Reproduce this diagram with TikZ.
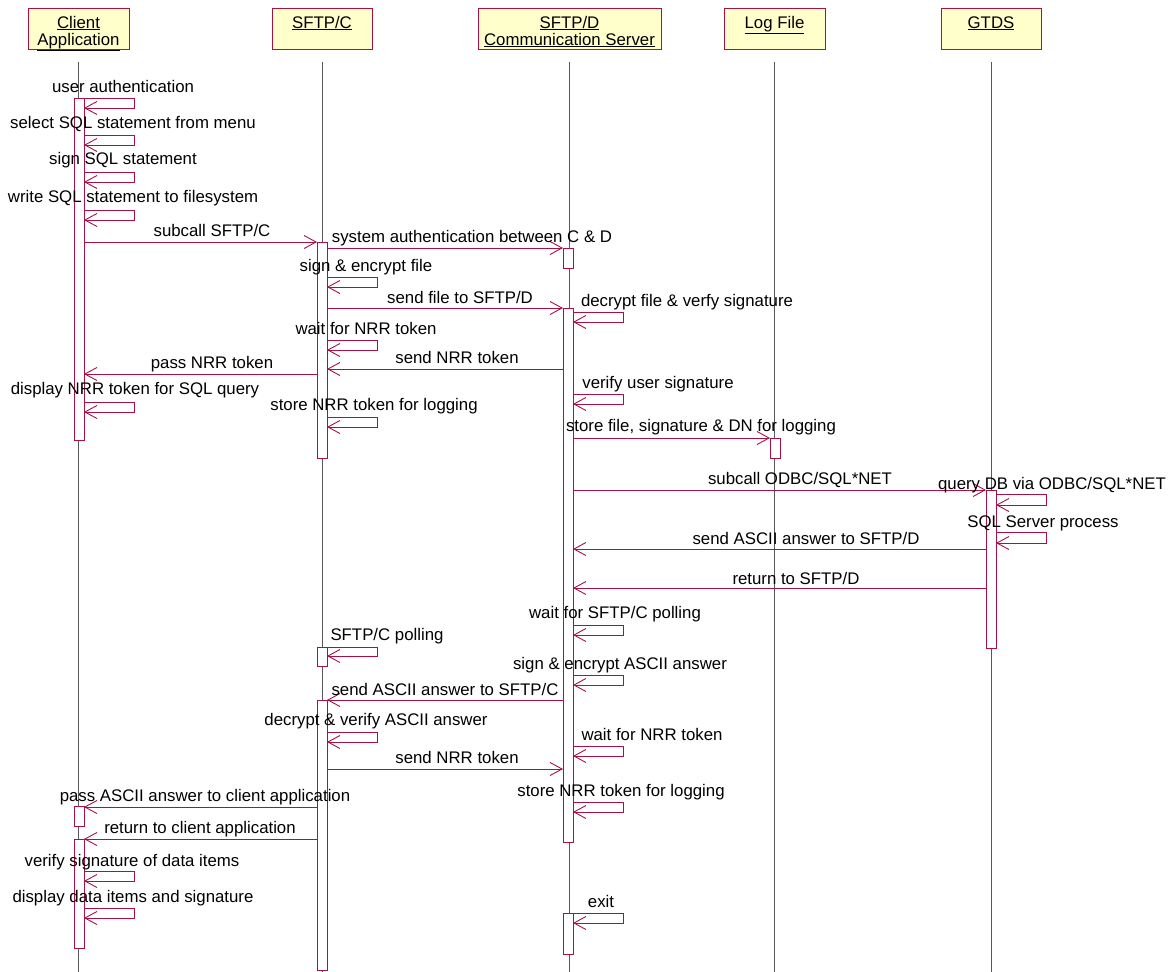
\documentclass[tikz,border=0pt]{standalone}
\usepackage{fontspec}
\setmainfont{Liberation Sans}
\usetikzlibrary{arrows.meta}
\definecolor{umlred}{RGB}{168,18,66}
\definecolor{umlfill}{RGB}{255,255,204}
\tikzset{
  head/.style={draw=umlred,fill=umlfill,line width=0.9pt,minimum height=41pt,inner sep=0pt},
  life/.style={draw=black!65,line width=0.9pt},
  actbox/.style={draw=umlred,fill=white,line width=0.9pt},
  msg/.style={draw=umlred,line width=0.9pt,
    -{Straight Barb[length=12pt,width=13pt,line width=0.9pt]}},
  lbl/.style={anchor=base,inner sep=0pt,font=\fontsize{16.8}{17}\selectfont}
}
% self call: #1 lifeline x, #2 top y, #3 bottom y
\newcommand\selfcall[3]{\draw[msg] (#1+5,#2) -- (#1+55,#2) -- (#1+55,#3) -- (#1+5,#3);}
% activation: #1 lifeline x, #2 top y, #3 bottom y
\newcommand\actbar[3]{\draw[actbox] (#1-5,#2) rectangle (#1+5,#3);}
\begin{document}
\begin{tikzpicture}[x=1pt,y=-1pt]
\def\xcli{79}
\def\xsc{322}
\def\xsd{568}
\def\xlog{775}
\def\xgt{991}
\useasboundingbox (0,0) rectangle (1171,972);
% objects
\node[head,minimum width=101pt] (cli) at (78.5,28.5) {};
\node[head,minimum width=100pt] (sc) at (322,28.5) {};
\node[head,minimum width=183pt] (sd) at (569.5,28.5) {};
\node[head,minimum width=101pt] (logf) at (774.5,28.5) {};
\node[head,minimum width=100pt] (gt) at (991,28.5) {};
\node[lbl] (cli1) at (cli.center |- 0,28) {\underline{Client}};
\node[lbl] (cli2) at (cli.center |- 0,45) {\underline{Application}};
\node[lbl] (sc1) at (sc.center |- 0,28) {\underline{SFTP/C}};
\node[lbl] (sd1) at (sd.center |- 0,28) {\underline{SFTP/D}};
\node[lbl] (sd2) at (sd.center |- 0,45) {\underline{Communication Server}};
\node[lbl] (logf1) at (logf.center |- 0,28) {\underline{Log File}};
\node[lbl] (gt1) at (gt.center |- 0,28) {\underline{GTDS}};
% lifelines
\foreach \n in {cli,sc,sd,logf,gt}
  \draw[life] (\n.center |- 0,62) -- (\n.center |- 0,972);
% activations
\actbar{\xcli}{98}{440}
\actbar{\xcli}{806}{826}
\actbar{\xcli}{839}{948}
\actbar{\xsc}{242}{458}
\actbar{\xsc}{647}{666}
\actbar{\xsc}{700}{970}
\actbar{\xsd}{248}{268}
\actbar{\xsd}{308}{842}
\actbar{\xsd}{913}{954}
\actbar{\xlog}{438}{458}
\actbar{\xgt}{490}{648}
% client application
\selfcall{\xcli}{98}{108}
\node[lbl] (m1) at (123,92) {user authentication};
\selfcall{\xcli}{135}{145}
\node[lbl] (m2) at (133,128) {select SQL statement from menu};
\selfcall{\xcli}{172}{182}
\node[lbl] (m3) at (123,164) {sign SQL statement};
\selfcall{\xcli}{210}{220}
\node[lbl] (m4) at (133,202) {write SQL statement to filesystem};
\draw[msg] (\xcli+5,242) -- (\xsc-5,242);
\node[lbl] (m5) at (212,236) {subcall SFTP/C};
% SFTP/C and SFTP/D
\draw[msg] (\xsc+5,248) -- (\xsd-5,248);
\node[lbl] (m6) at (472,242) {system authentication between C \& D};
\selfcall{\xsc}{277}{287}
\node[lbl] (m7) at (366,271) {sign \& encrypt file};
\draw[msg] (\xsc+5,308) -- (\xsd-5,308);
\node[lbl] (m8) at (460,303) {send file to SFTP/D};
\selfcall{\xsd}{312}{322}
\node[lbl] (m9) at (687,306) {decrypt file \& verfy signature};
\selfcall{\xsc}{340}{350}
\node[lbl] (m10) at (366,334) {wait for NRR token};
\draw[msg] (\xsd-5,369) -- (\xsc+5,369);
\node[lbl] (m11) at (457,363) {send NRR token};
\draw[msg] (\xsc-5,374) -- (\xcli+5,374);
\node[lbl] (m12) at (212,368) {pass NRR token};
\selfcall{\xcli}{402}{412}
\node[lbl] (m13) at (135,394) {display NRR token for SQL query};
\selfcall{\xsd}{394}{404}
\node[lbl] (m14) at (658,388) {verify user signature};
\selfcall{\xsc}{417}{427}
\node[lbl] (m15) at (374,410) {store NRR token for logging};
\draw[msg] (\xsd+5,438) -- (\xlog-5,438);
\node[lbl] (m16) at (701,431) {store file, signature \& DN for logging};
% GTDS
\draw[msg] (\xsd+5,490) -- (\xgt-5,490);
\node[lbl] (m17) at (800,484) {subcall ODBC/SQL*NET};
\selfcall{\xgt}{494}{505}
\node[lbl] (m18) at (1052,489) {query DB via ODBC/SQL*NET};
\selfcall{\xgt}{532}{543}
\node[lbl] (m19) at (1043,527) {SQL Server process};
\draw[msg] (\xgt-5,549) -- (\xsd+5,549);
\node[lbl] (m20) at (806,544) {send ASCII answer to SFTP/D};
\draw[msg] (\xgt-5,588) -- (\xsd+5,588);
\node[lbl] (m21) at (796,584) {return to SFTP/D};
% answer back
\selfcall{\xsd}{625}{635}
\node[lbl] (m22) at (615,618) {wait for SFTP/C polling};
\selfcall{\xsc}{647}{656}
\node[lbl] (m23) at (387,640) {SFTP/C polling};
\selfcall{\xsd}{675}{685}
\node[lbl] (m24) at (620,669) {sign \& encrypt ASCII answer};
\draw[msg] (\xsd-5,700) -- (\xsc+5,700);
\node[lbl] (m25) at (445,695) {send ASCII answer to SFTP/C};
\selfcall{\xsc}{732}{742}
\node[lbl] (m26) at (376,725) {decrypt \& verify ASCII answer};
\selfcall{\xsd}{746}{756}
\node[lbl] (m27) at (652,740) {wait for NRR token};
\draw[msg] (\xsc+5,769) -- (\xsd-5,769);
\node[lbl] (m28) at (457,763) {send NRR token};
\selfcall{\xsd}{802}{812}
\node[lbl] (m29) at (621,796) {store NRR token for logging};
\draw[msg] (\xsc-5,807) -- (\xcli+5,807);
\node[lbl] (m30) at (205,801) {pass ASCII answer to client application};
\draw[msg] (\xsc-5,839) -- (\xcli+5,839);
\node[lbl] (m31) at (200,833) {return to client application};
\selfcall{\xcli}{871}{881}
\node[lbl] (m32) at (132,866) {verify signature of data items};
\selfcall{\xcli}{908}{918}
\node[lbl] (m33) at (133,902) {display data items and signature};
\selfcall{\xsd}{913}{923}
\node[lbl] (m34) at (601,907) {exit};
\end{tikzpicture}
\end{document}
